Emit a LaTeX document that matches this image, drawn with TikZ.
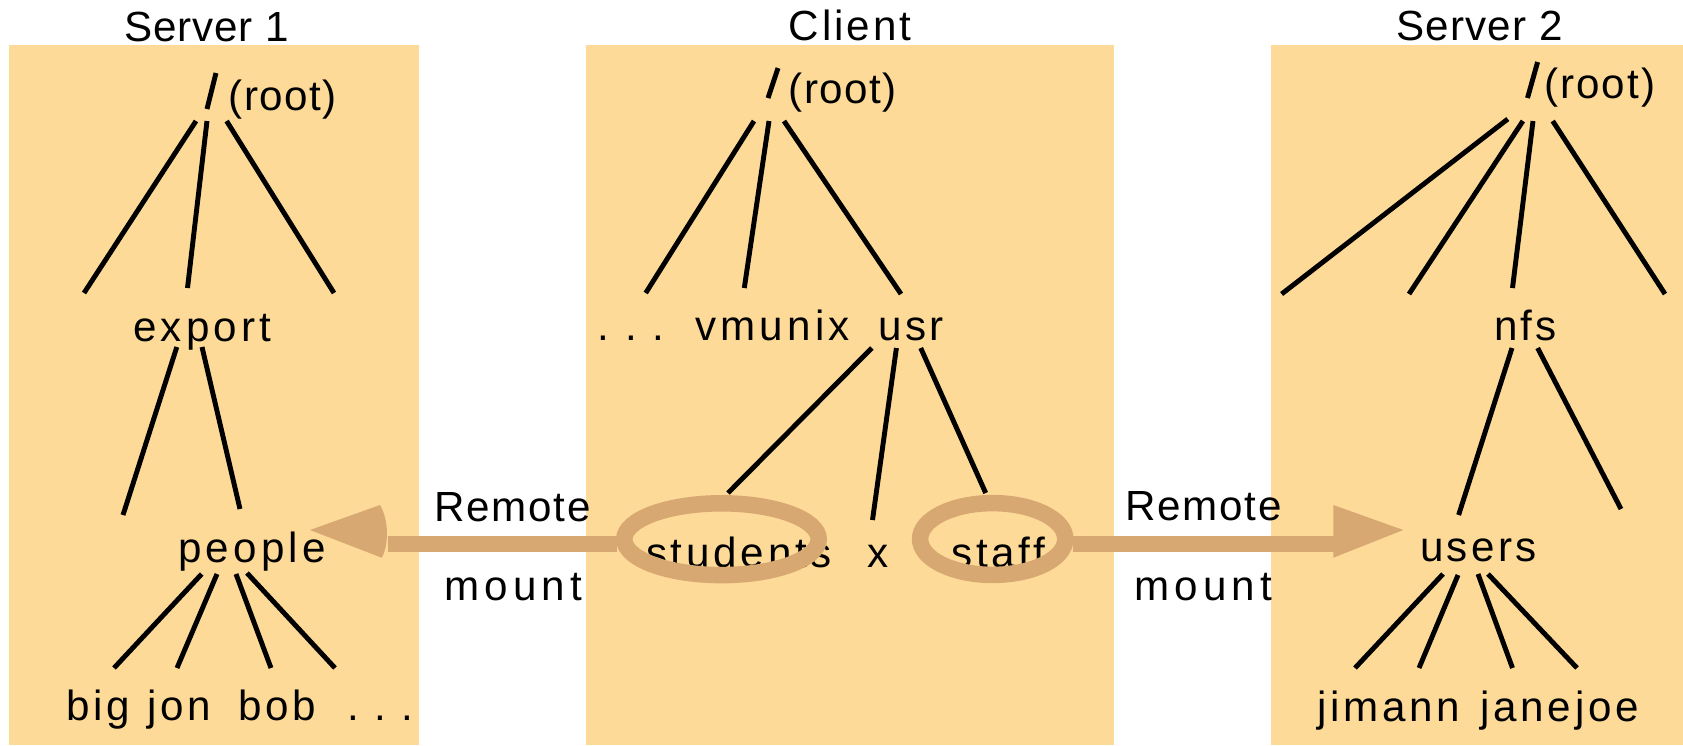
\documentclass[tikz,border=0pt]{standalone}
\usepackage{fontspec}
\setmainfont{Liberation Sans}
\newcommand\tracked[1]{\addfontfeature{LetterSpace=#1}}
\definecolor{panel}{HTML}{FEDA98}
\definecolor{mountc}{HTML}{D8A873}
\tikzset{
  lbl/.style={inner sep=0pt, anchor=base west,
    font=\fontsize{24}{28}\selectfont\tracked{#1}},
  lbl/.default=9,
  edge/.style={line width=2.8pt},
  ring/.style={draw=mountc, line width=9.4pt},
  shaft/.style={fill=mountc},
}
\begin{document}
\begin{tikzpicture}[x=0.02cm, y=-0.02cm]
\useasboundingbox (0,0) rectangle (1683,745);

% machine panels
\fill[panel] (9,45) rectangle (419,745);
\fill[panel] (586,45) rectangle (1113.6,745);
\fill[panel] (1271,45) rectangle (1683,745);

% ---------- Server 1 ----------
\node[lbl=2] (s1title) at (124,41) {Server 1};
\draw[edge] (216,73) -- (207,109);
\node[lbl=3.5] (s1root) at (228.5,110) {(root)};
\draw[edge] (196,121) -- (84,293);
\draw[edge] (207,121) -- (187.5,288);
\draw[edge] (226.6,121) -- (334,293);
\node[lbl=10] (export) at (133,341.7) {export};
\draw[edge] (176.8,347) -- (123,515);
\draw[edge] (202,347) -- (240,509);
\node[lbl=10] (people) at (178,562) {people};
\draw[edge] (201.7,574) -- (114,668);
\draw[edge] (217,574) -- (177,668);
\draw[edge] (236,574) -- (271,668);
\draw[edge] (247,573) -- (335,668);
\node[lbl] (big) at (66,720) {big};
\node[lbl] (jon) at (147,720) {jon};
\node[lbl] (bob) at (238,720) {bob};
\node[lbl=0] (s1more) at (346.7,720) {. . .};

% ---------- Client ----------
\node[lbl=7] (ctitle) at (788.6,40.7) {Client};
\draw[edge] (778,68) -- (768,98);
\node[lbl=3.5] (croot) at (788.6,103.3) {(root)};
\draw[edge] (754,121) -- (645.7,293);
\draw[edge] (769,121) -- (744.3,288);
\draw[edge] (784,121) -- (901,294);
\node[lbl=0] (cmore) at (597.5,340) {. . .};
\node[lbl=10] (vmunix) at (695,340) {vmunix};
\node[lbl=8] (usr) at (878,340) {usr};
\draw[edge] (871.8,348) -- (728,493);
\draw[edge] (896.4,348) -- (872.5,520);
\draw[edge] (920.7,348) -- (985.7,493);
\node[lbl] (students) at (645.7,567.3) {students};
\node[lbl] (x) at (867,567.3) {x};
\node[lbl] (staff) at (951,567.3) {staff};

% ---------- Server 2 ----------
\node[lbl=3] (s2title) at (1395.8,40.7) {Server 2};
\draw[edge] (1537.6,62) -- (1527.5,98);
\node[lbl=5] (s2root) at (1543.7,98.3) {(root)};
\draw[edge] (1507.8,119) -- (1281.6,294);
\draw[edge] (1522.9,121) -- (1409,294);
\draw[edge] (1533,121) -- (1512.5,288);
\draw[edge] (1552.7,121) -- (1665,294);
\node[lbl=6] (nfs) at (1494.5,340.7) {nfs};
\draw[edge] (1512,348) -- (1458.6,515);
\draw[edge] (1537.6,348) -- (1621,509);
\node[lbl=8] (users) at (1419.8,561.7) {users};
\draw[edge] (1443,574) -- (1355,668);
\draw[edge] (1458,575) -- (1419,668);
\draw[edge] (1478,574) -- (1512.5,668);
\draw[edge] (1488,574) -- (1577,668);
\node[lbl] (jimann) at (1316.7,721.7) {jimann};
\node[lbl] (janejoe) at (1480,721.7) {janejoe};

% ---------- remote mounts ----------
\node[lbl=4] (remL) at (434.4,521) {Remote};
\node[lbl=12] (mntL) at (444,600) {mount};
\node[lbl=4] (remR) at (1125.4,520) {Remote};
\node[lbl=12] (mntR) at (1134.4,600) {mount};

\draw[ring] (721.5,539.2) ellipse [x radius=97.2, y radius=35.9];
\draw[ring] (992.7,539) ellipse [x radius=72.6, y radius=35.9];

\fill[shaft] (388,536) rectangle (616.5,551.7);
\fill[mountc] (310,530) -- (380,505)
  .. controls (389,520) and (389,545) .. (381.7,557.7) -- cycle;
\fill[shaft] (1073,536) rectangle (1334,551.7);
\fill[mountc] (1403.3,530) -- (1333.3,505) -- (1333.3,557.7) -- cycle;
\end{tikzpicture}
\end{document}
